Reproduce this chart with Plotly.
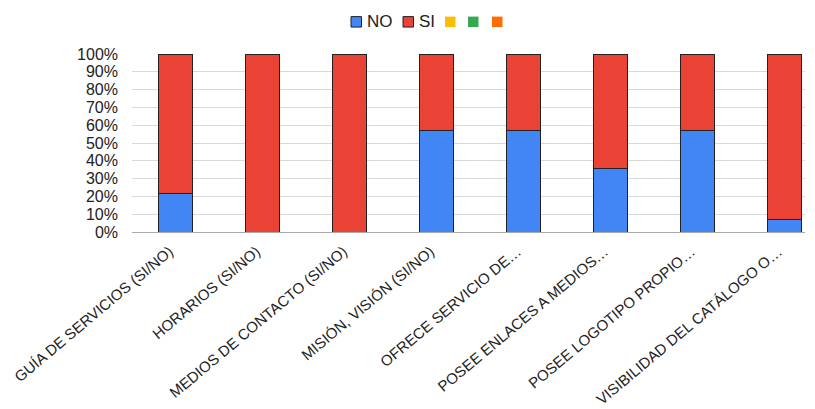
import plotly.graph_objects as go

categories = [
    "GUÍA DE SERVICIOS (SI/NO)",
    "HORARIOS (SI/NO)",
    "MEDIOS DE CONTACTO (SI/NO)",
    "MISIÓN, VISIÓN (SI/NO)",
    "OFRECE SERVICIO DE…",
    "POSEE ENLACES A MEDIOS…",
    "POSEE LOGOTIPO PROPIO…",
    "VISIBILIDAD DEL CATÁLOGO O…",
]
no_counts = [3, 0, 0, 8, 8, 5, 8, 1]
si_counts = [11, 14, 14, 6, 6, 9, 6, 13]
series_names = ["NO", "SI"]
series_colors = ["#4285F4", "#EA4335"]
extra_colors = ["#FBBC04", "#34A853", "#FF6D01"]

totals = [a + b for a, b in zip(no_counts, si_counts)]
no_pct = [a / t for a, t in zip(no_counts, totals)]
si_pct = [b / t for b, t in zip(si_counts, totals)]

W, H = 815, 409
ML, MR, MT, MB = 132, 10, 54, 176.5
PW, PH = W - ML - MR, H - MT - MB


def px(x):
    return (x - ML) / PW


def py(y):
    return (H - MB - y) / PH


font = "Liberation Sans, Arial, sans-serif"
fig = go.Figure()
for name, vals, col in zip(series_names, [no_pct, si_pct], series_colors):
    fig.add_trace(go.Bar(x=categories, y=vals, name=name, showlegend=False,
                         marker=dict(color=col, line=dict(color="#222222", width=1))))

# legend (compact, Sheets-style)
shapes = []
annotations = []
leg_items = [
    (351, "NO", series_colors[0], True),
    (403, "SI", series_colors[1], True),
    (445, "", extra_colors[0], False),
    (468, "", extra_colors[1], False),
    (492, "", extra_colors[2], False),
]
for x0, label, col, border in leg_items:
    shapes.append(dict(type="rect", xref="paper", yref="paper",
                       x0=px(x0), x1=px(x0 + 10.5), y0=py(27), y1=py(16.5),
                       fillcolor=col, line=dict(color="#222222", width=1 if border else 0)))
    if label:
        annotations.append(dict(text=label, xref="paper", yref="paper", x=px(x0 + 13.5),
                                y=py(21.5), xanchor="left", yanchor="middle",
                                showarrow=False, font=dict(size=17, color="#222222")))

fig.update_layout(
    width=W, height=H,
    barmode="stack", bargap=0.6,
    plot_bgcolor="white", paper_bgcolor="white",
    margin=dict(l=ML, r=MR, t=MT, b=MB, autoexpand=False),
    font=dict(family=font, size=15, color="#222222"),
    showlegend=False,
    shapes=shapes,
    annotations=annotations,
    xaxis=dict(tickangle=-40, range=[-0.5, 7.236], showgrid=False, automargin=False,
               showline=True, linecolor="#aaaaaa", linewidth=1, ticks="",
               ticklabelshift=-6, ticklabelstandoff=4),
    yaxis=dict(range=[0, 1], tickformat=".0%", dtick=0.1, showgrid=True, automargin=False,
               gridcolor="#d9d9d9", gridwidth=1, zeroline=False, showline=False,
               ticks="", ticklabelstandoff=13, tickfont=dict(size=16)),
)
fig.write_html("out.html", config={"displayModeBar": False},
               post_script="document.body.style.margin='0';")
